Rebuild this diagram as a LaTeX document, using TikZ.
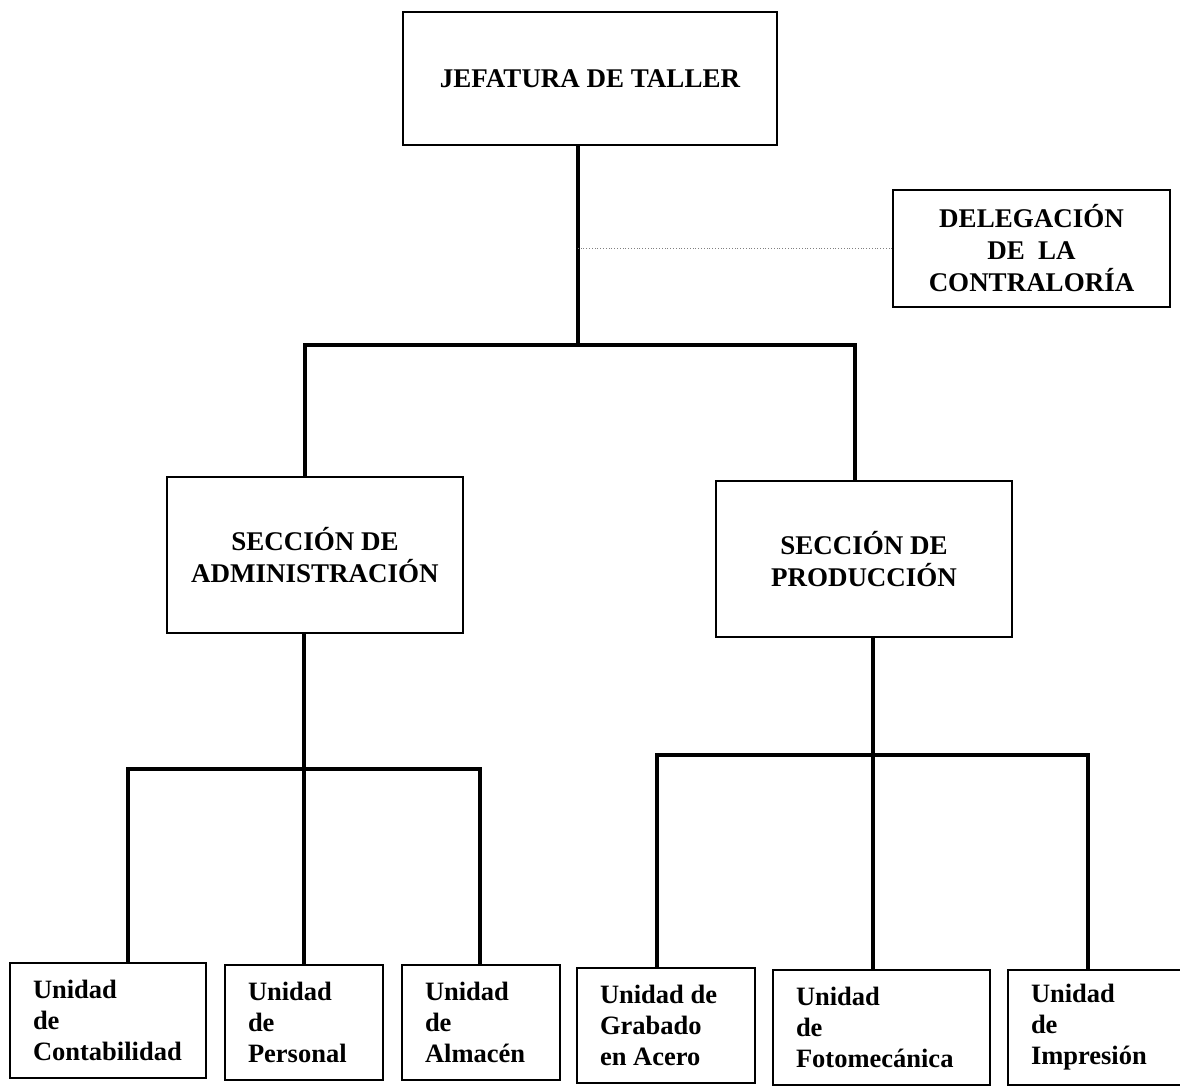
\documentclass[tikz,border=0pt]{standalone}
\usepackage{fontspec}
\setmainfont{Liberation Serif}
\usepackage{tikz}

\begin{document}
\begin{tikzpicture}[x=1pt,y=-1pt,
		caja/.style={draw,line width=1.6pt,align=center,inner sep=0pt,font=\bfseries\fontsize{27}{32}\selectfont},
		unidad/.style={draw,line width=1.6pt,align=flush left,inner xsep=23pt,inner ysep=0pt,font=\bfseries\fontsize{26.5}{31}\selectfont},
		linea/.style={line width=4.5pt},
		punteado/.style={gray,dotted,line width=0.8pt}]
			\useasboundingbox (0,0) rectangle (1180,1085);
			\node[caja,minimum width=374pt,minimum height=133pt] (jefe) at (590,78.5) {JEFATURA DE TALLER};
			\node[caja,minimum width=277pt,minimum height=117pt] (deleg) at (1031.5,248.5) {DELEGACIÓN\\DE\ \ LA\\CONTRALORÍA};
			\node[caja,minimum width=296pt,minimum height=156pt] (adm) at (315,555) {SECCIÓN DE\\ADMINISTRACIÓN};
			\node[caja,minimum width=296pt,minimum height=156pt] (prod) at (864,559) {SECCIÓN DE\\PRODUCCIÓN};
			\node[unidad,text width=150pt,minimum height=115pt] (cont) at (108,1020.5) {Unidad\\de\\Contabilidad};
			\node[unidad,text width=112pt,minimum height=115pt] (pers) at (304,1022.5) {Unidad\\de\\Personal};
			\node[unidad,text width=112pt,minimum height=115pt] (alm) at (481,1022.5) {Unidad\\de\\Almacén};
			\node[unidad,text width=132pt,minimum height=115pt] (grab) at (666,1025.5) {Unidad de\\Grabado\\en Acero};
			\node[unidad,text width=171pt,minimum height=115pt] (foto) at (881.5,1027.5) {Unidad\\de\\Fotomecánica};
			\node[unidad,text width=144pt,minimum height=115pt] (impr) at (1103,1027.5) {Unidad\\de\\Impresión};
			\coordinate (b1) at (578,345);
			\coordinate (b2) at (305,345);
			\coordinate (b3) at (855,345);
			\coordinate (a0) at (128,769);
			\coordinate (a2) at (480,769);
			\coordinate (p0) at (657,755);
			\coordinate (p1) at (873,755);
			\coordinate (p2) at (1088,755);
			\draw[linea] (jefe.south -| b1) -- (b1);
			\draw[punteado] (deleg.west) -- (deleg.west -| b1);
			\draw[linea] (adm.north -| b2) -- (b2) -- (b3) -- (prod.north -| b3);
			\draw[linea] (adm.south -| pers.north) -- (pers.north);
			\draw[linea] (cont.north -| a0) -- (a0) -- (a2) -- (alm.north -| a2);
			\draw[linea] (prod.south -| p1) -- (foto.north -| p1);
			\draw[linea] (grab.north -| p0) -- (p0) -- (p2) -- (impr.north -| p2);
		\end{tikzpicture}
\end{document}
